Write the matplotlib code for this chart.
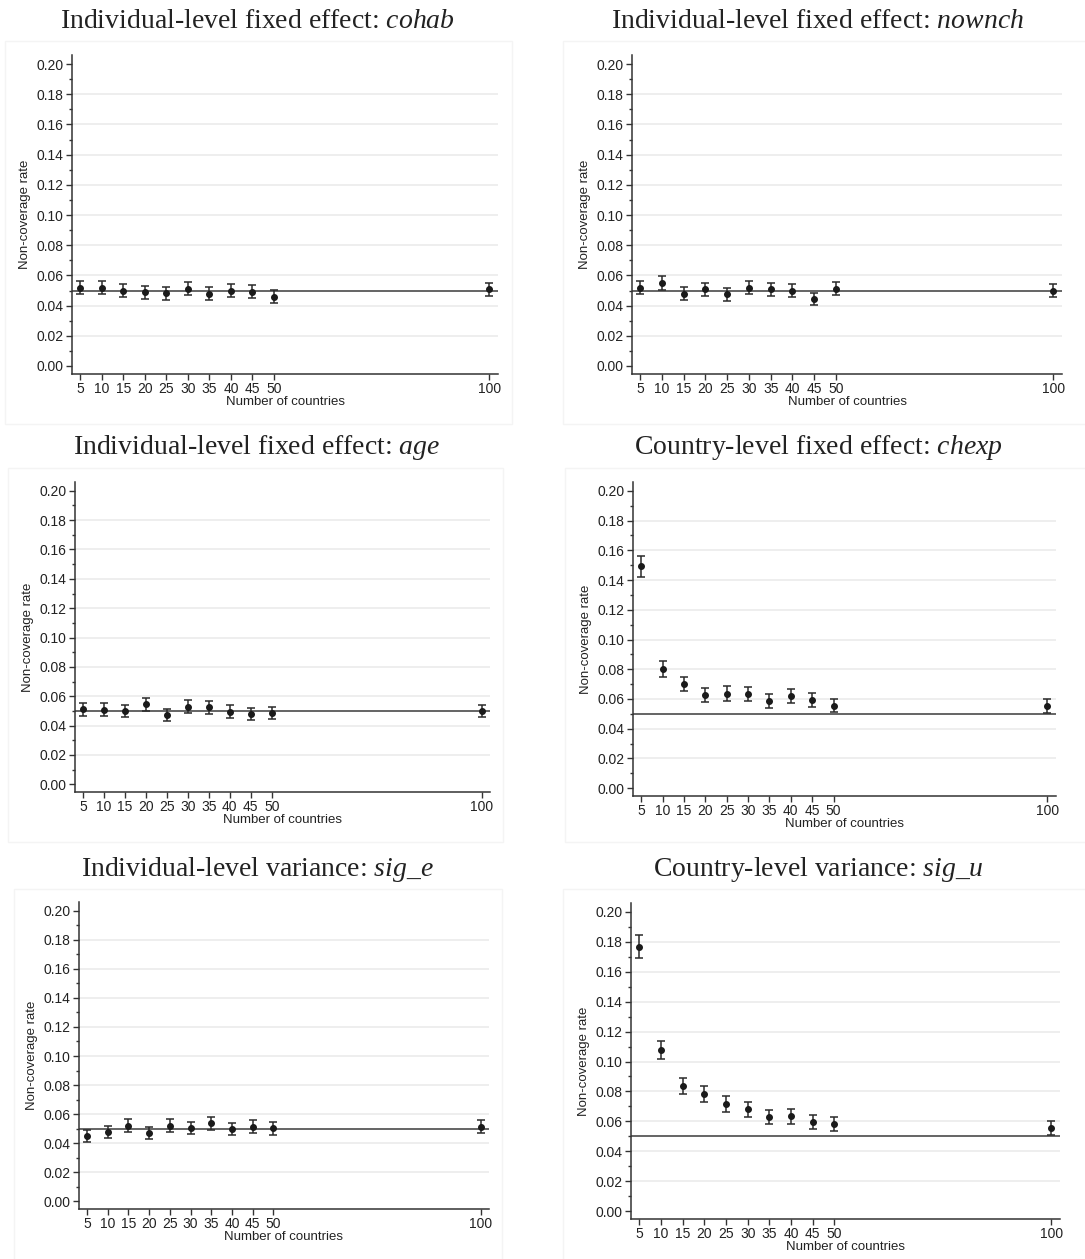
import matplotlib.pyplot as plt
from matplotlib.patches import Rectangle

plt.rcParams['font.family'] = ['Liberation Sans', 'DejaVu Sans']
plt.rcParams['mathtext.fontset'] = 'custom'
plt.rcParams['mathtext.rm'] = 'Liberation Serif'
plt.rcParams['mathtext.it'] = 'Liberation Serif:italic'

# Number of countries
countries = [5, 10, 15, 20, 25, 30, 35, 40, 45, 50, 100]
xticklabels = ['5', '10', '15', '20', '25', '30', '35', '40', '45', '50', '100']

# Titles
titles = [
    'Individual-level fixed effect: $\\it{cohab}$',
    'Individual-level fixed effect: $\\it{nownch}$',
    'Individual-level fixed effect: $\\it{age}$',
    'Country-level fixed effect: $\\it{chexp}$',
    'Individual-level variance: $\\it{sig\\_e}$',
    'Country-level variance: $\\it{sig\\_u}$',
]

# Non-coverage rates (point estimates)
cohab = [0.0518, 0.0518, 0.0500, 0.0489, 0.0482, 0.0511, 0.0478, 0.0500, 0.0493, 0.0460, 0.0507]
nownch = [0.0518, 0.0551, 0.0478, 0.0509, 0.0474, 0.0518, 0.0509, 0.0498, 0.0443, 0.0513, 0.0498]
age = [0.0511, 0.0509, 0.0498, 0.0545, 0.0470, 0.0527, 0.0523, 0.0495, 0.0477, 0.0484, 0.0498]
chexp = [0.1492, 0.0804, 0.0701, 0.0629, 0.0636, 0.0634, 0.0585, 0.0618, 0.0593, 0.0555, 0.0553]
sig_e = [0.0450, 0.0475, 0.0520, 0.0468, 0.0520, 0.0505, 0.0536, 0.0498, 0.0514, 0.0502, 0.0514]
sig_u = [0.1768, 0.1079, 0.0838, 0.0780, 0.0716, 0.0680, 0.0631, 0.0633, 0.0598, 0.0580, 0.0557]

# Half-widths of the 95% intervals
cohab_err = [0.0043, 0.0043, 0.0043, 0.0042, 0.0042, 0.0043, 0.0042, 0.0043, 0.0042, 0.0041, 0.0043]
nownch_err = [0.0043, 0.0045, 0.0042, 0.0043, 0.0042, 0.0043, 0.0043, 0.0043, 0.0040, 0.0043, 0.0043]
age_err = [0.0043, 0.0043, 0.0043, 0.0045, 0.0042, 0.0044, 0.0044, 0.0043, 0.0042, 0.0042, 0.0043]
chexp_err = [0.0070, 0.0053, 0.0050, 0.0048, 0.0048, 0.0048, 0.0046, 0.0047, 0.0046, 0.0045, 0.0045]
sig_e_err = [0.0041, 0.0042, 0.0044, 0.0041, 0.0044, 0.0043, 0.0044, 0.0043, 0.0043, 0.0043, 0.0043]
sig_u_err = [0.0075, 0.0061, 0.0054, 0.0053, 0.0051, 0.0049, 0.0048, 0.0048, 0.0047, 0.0046, 0.0045]

series = [cohab, nownch, age, chexp, sig_e, sig_u]
errors = [cohab_err, nownch_err, age_err, chexp_err, sig_e_err, sig_u_err]

W, H = 1085, 1259
fig = plt.figure(figsize=(W / 100, H / 100), dpi=100)

# axes boxes in pixels: left, top, right, bottom
boxes = [
    (72, 55, 498, 374), (632, 55, 1062, 374),
    (75, 482, 490, 792), (633, 482, 1056, 796),
    (79, 902, 489, 1209), (631, 903, 1060, 1219),
]
# faint outer frames: left, top, right, bottom
frames = [
    (5, 41, 512, 424), (563, 41, 1090, 424),
    (8, 468, 503, 842), (565, 468, 1090, 842),
    (14, 889, 502, 1262), (563, 889, 1090, 1262),
]
title_pos = [(257, 22), (818, 22), (257, 448), (818, 448), (257, 870), (818, 870)]

for i in range(6):
    fl, ft, fr, fb = frames[i]
    fig.patches.append(Rectangle((fl / W, 1 - fb / H), (fr - fl) / W, (fb - ft) / H,
                                 transform=fig.transFigure, fill=False,
                                 edgecolor='#f4f4f4', lw=1.0))

    l, t, r, b = boxes[i]
    ax = fig.add_axes([l / W, 1 - b / H, (r - l) / W, (b - t) / H])

    for g in [0.02, 0.04, 0.06, 0.08, 0.10, 0.12, 0.14, 0.16, 0.18]:
        ax.axhline(g, color='#ebebeb', lw=1.2, zorder=0)
    ax.axhline(0.05, color='#3a3a3a', lw=1.1, zorder=1)

    ax.errorbar(countries, series[i], yerr=errors[i], fmt='o', color='#1a1a1a',
                ecolor='#2a2a2a', elinewidth=1.1, capsize=3, capthick=1.1,
                markersize=4, zorder=3)

    ax.set_xlim(3.1, 102)
    ax.set_ylim(-0.0053, 0.206)
    ax.set_xticks(countries)
    ax.set_xticklabels(xticklabels)
    ax.set_yticks([0.0, 0.02, 0.04, 0.06, 0.08, 0.10, 0.12, 0.14, 0.16, 0.18, 0.20])
    ax.set_yticklabels(['0.00', '0.02', '0.04', '0.06', '0.08', '0.10',
                        '0.12', '0.14', '0.16', '0.18', '0.20'])
    ax.set_yticks([0.01, 0.03, 0.05, 0.07, 0.09, 0.11, 0.13, 0.15, 0.17, 0.19], minor=True)
    ax.tick_params(axis='both', which='major', labelsize=10, length=4, width=1,
                   color='#333333', labelcolor='#222222', pad=2)
    ax.tick_params(axis='y', which='minor', length=2.5, width=1, color='#333333')
    for s in ['top', 'right']:
        ax.spines[s].set_visible(False)
    for s in ['left', 'bottom']:
        ax.spines[s].set_color('#333333')
        ax.spines[s].set_linewidth(1.1)

    ax.set_ylabel('Non-coverage rate', fontsize=9.5, color='#222222', labelpad=4)
    ax.set_xlabel('Number of countries', fontsize=9.5, color='#222222', labelpad=0)

    tx, ty = title_pos[i]
    fig.text(tx / W, 1 - ty / H, titles[i], ha='center', va='center',
             fontsize=20, family='Liberation Serif', color='#222222')

fig.savefig('out.png', dpi=100, facecolor='white')
